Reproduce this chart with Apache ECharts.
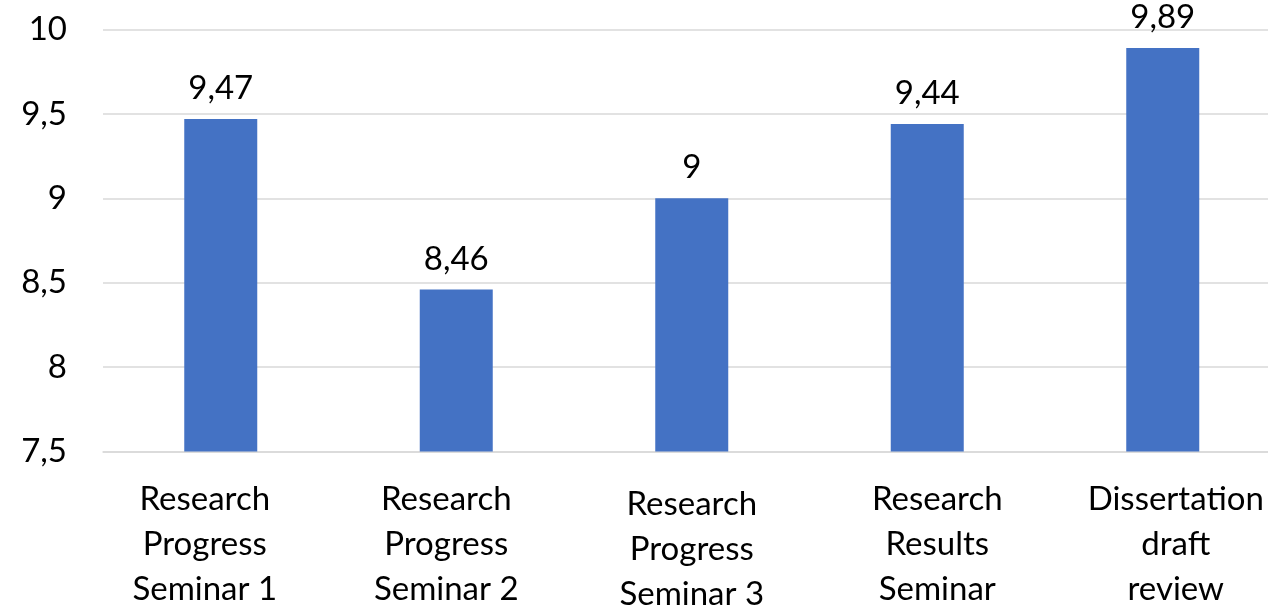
<!DOCTYPE html>
<html><head><meta charset="utf-8">
<script src="https://cdn.jsdelivr.net/npm/echarts@6/dist/echarts.min.js"></script>
<style>html,body{margin:0;padding:0;background:#fff}#c{width:1268px;height:608px}</style>
</head><body><div id="c"></div>
<script>
const categories = ["Research\nProgress\nSeminar 1", "Research\nProgress\nSeminar 2", "Research\nProgress\nSeminar 3", "Research\nResults\nSeminar", "Dissertation\ndraft\nreview"];
const values = [9.47, 8.46, 9, 9.44, 9.89];
const yMin = 7.5, yMax = 10, yStep = 0.5;
const FONT = 'Lato';
const fmt = v => String(+v.toFixed(2)).replace('.', ',');
// label nudges (layout only, as in the reference's text placement)
const nudge = [[-16, 0], [-10, 0], [0, 5], [10, 0], [13, 0]];
const catData = categories.map((c, i) => {
  const dx = nudge[i][0], dy = nudge[i][1];
  return {value: c, textStyle: {padding: [dy, dx < 0 ? -2 * dx : 0, 0, dx > 0 ? 2 * dx : 0]}};
});
const chart = echarts.init(document.getElementById('c'), null, {renderer: 'canvas'});
chart.setOption({
  animation: false,
  backgroundColor: '#fff',
  grid: {left: 103, top: 29.5, width: 1177.5, height: 422, outerBoundsMode: 'none', containLabel: false},
  xAxis: {
    type: 'category', data: catData,
    axisLine: {lineStyle: {color: '#D9D9D9', width: 1.5}},
    axisTick: {show: false},
    axisLabel: {color: '#000', fontFamily: FONT, fontSize: 33, lineHeight: 45, margin: 25, interval: 0}
  },
  yAxis: {
    type: 'value', min: yMin, max: yMax, interval: yStep,
    axisLine: {show: false}, axisTick: {show: false},
    splitLine: {lineStyle: {color: '#D9D9D9', width: 1.5}},
    axisLabel: {color: '#000', fontFamily: FONT, fontSize: 33, margin: 36, formatter: fmt}
  },
  series: [{
    type: 'bar', data: values, barWidth: 73,
    itemStyle: {color: '#4472C4'},
    label: {show: true, position: 'top', distance: 14, color: '#000', fontFamily: FONT, fontSize: 33, formatter: p => fmt(p.value)}
  }]
});
</script></body></html>
